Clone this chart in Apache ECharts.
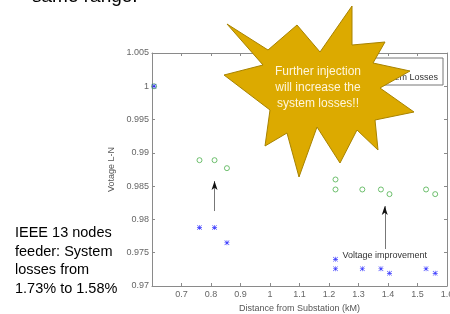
<!DOCTYPE html>
<html>
<head>
<meta charset="utf-8">
<script src="https://cdn.jsdelivr.net/npm/echarts@6/dist/echarts.min.js"></script>
<style>
html, body { margin: 0; padding: 0; background: #fff; }
#chart { width: 450px; height: 314px; }
</style>
</head>
<body>
<div id="chart"></div>
<script>
// distances (km) of the measured nodes
const distance = [0.607, 0.761, 0.812, 0.854, 1.222, 1.222, 1.313, 1.376, 1.405, 1.529, 1.560];
// voltage after injection (green circles)
const voltAfter = [1.0, 0.9889, 0.9889, 0.9877, 0.9860, 0.9845, 0.9845, 0.9845, 0.9838, 0.9845, 0.9838];
// voltage before injection (blue stars)
const voltBefore = [1.0, 0.9788, 0.9788, 0.9765, 0.9740, 0.9726, 0.9726, 0.9726, 0.9719, 0.9726, 0.9719];

// annotation arrows [x, yFrom, yTo]
const arrows = [[0.812, 0.98126, 0.98577], [1.389, 0.97556, 0.98201]];

const sideText = ['IEEE 13 nodes', 'feeder: System', 'losses from', '1.73% to 1.58%'];
const starText = ['Further injection', 'will increase the', 'system losses!!'];

const FONT = 'Liberation Sans, Arial, sans-serif';
const AXIS_COLOR = '#8a8a8a';
const LABEL_COLOR = '#666';

// asterisk marker like matlab '*'
const asterisk = 'path://M4.4,0h1.2v10h-1.2Z M0,4.4h10v1.2h-10Z M0.8,0L10,9.2L9.2,10L0,0.8Z M9.2,0L10,0.8L0.8,10L0,9.2Z';
// matlab style arrow head, tip at top
const arrowHead = 'path://M5,0L10,10L5,7.5L0,10Z';

const chartDom = document.getElementById('chart');
const myChart = echarts.init(chartDom);

function pair(ys) {
    return distance.map((d, i) => [d, ys[i]]);
}

// starburst outline (pixels)
const starPoints = [
    [227, 24], [268, 50], [297, 25], [320, 52], [352, 6], [352, 45],
    [385, 42], [373, 63], [410, 71], [380, 88], [414, 112], [375, 120],
    [378, 150], [357, 130], [340, 163], [317, 127], [299, 177], [287, 133],
    [265, 146], [270, 110], [224, 75], [263, 65]
];

const xBase = {
    type: 'value',
    min: 0.6,
    max: 1.6,
    interval: 0.1,
    splitLine: { show: false },
    axisLine: { show: true, onZero: false, lineStyle: { color: AXIS_COLOR } },
    axisTick: { show: true, inside: true, length: 3, lineStyle: { color: AXIS_COLOR } }
};
const yBase = {
    type: 'value',
    min: 0.97,
    max: 1.005,
    interval: 0.005,
    splitLine: { show: false },
    axisLine: { show: true, onZero: false, lineStyle: { color: AXIS_COLOR } },
    axisTick: { show: true, inside: true, length: 3, lineStyle: { color: AXIS_COLOR } }
};

const option = {
    animation: false,
    backgroundColor: '#fff',
    grid: { left: 152, right: 3, top: 53, bottom: 28, containLabel: false, outerBoundsMode: 'none' },
    xAxis: [
        Object.assign({}, xBase, {
            position: 'bottom',
            name: 'Distance from Substation (kM)',
            nameLocation: 'middle',
            nameGap: 14,
            nameTextStyle: { fontFamily: FONT, fontSize: 9, color: '#555' },
            axisLabel: { showMinLabel: false, margin: 4, fontFamily: FONT, fontSize: 9, color: LABEL_COLOR }
        }),
        Object.assign({}, xBase, { position: 'top', axisLabel: { show: false } })
    ],
    yAxis: [
        Object.assign({}, yBase, {
            position: 'left',
            name: 'Votage L-N',
            nameLocation: 'middle',
            nameGap: 30,
            nameTextStyle: { fontFamily: FONT, fontSize: 9, color: '#555' },
            axisLabel: { margin: 3, fontFamily: FONT, fontSize: 9, color: LABEL_COLOR }
        }),
        Object.assign({}, yBase, { position: 'right', axisLabel: { show: false } })
    ],
    series: [
        {
            name: 'After',
            type: 'scatter',
            symbol: 'circle',
            symbolSize: 5,
            itemStyle: { color: 'rgba(0,0,0,0)', borderColor: '#4cb04c', borderWidth: 1 },
            data: pair(voltAfter)
        },
        {
            name: 'Before',
            type: 'scatter',
            symbol: asterisk,
            symbolSize: 5,
            itemStyle: { color: '#1414ff' },
            data: pair(voltBefore),
            markLine: {
                silent: true,
                symbol: ['none', 'none'],
                lineStyle: { color: '#777', width: 1, type: 'solid' },
                label: { show: false },
                data: arrows.map((a, i) => [
                    {
                        coord: [a[0], a[1]],
                        label: i === 1 ? {
                            show: true, position: 'start', distance: 2,
                            formatter: 'Voltage improvement',
                            fontFamily: FONT, fontSize: 9, color: '#333'
                        } : { show: false }
                    },
                    { coord: [a[0], a[2]] }
                ])
            },
            markPoint: {
                silent: true,
                symbol: arrowHead,
                symbolSize: [6, 9],
                symbolOffset: [0, 4.5],
                itemStyle: { color: '#111' },
                label: { show: false },
                data: arrows.map(a => ({ coord: [a[0], a[2]] }))
            }
        }
    ],
    graphic: [
        {
            type: 'text', left: 32, top: -13, z: 50,
            style: { text: 'same range.', font: '19px ' + FONT, fill: '#000' }
        },
        {
            type: 'text', left: 15, top: 224, z: 50,
            style: { text: sideText.join('\n'), font: '14.5px ' + FONT, lineHeight: 18.5, fill: '#000' }
        },
        {
            type: 'rect', z: 60,
            shape: { x: 300, y: 58, width: 143, height: 27 },
            style: { fill: '#fff', stroke: '#777', lineWidth: 1 }
        },
        {
            type: 'text', z: 61,
            x: 438, y: 78,
            style: { text: 'Min. System Losses', font: '9px ' + FONT, fill: '#333', align: 'right', verticalAlign: 'middle' }
        },
        {
            type: 'polygon', z: 100,
            shape: { points: starPoints },
            style: { fill: '#dcaa00', stroke: '#a88300', lineWidth: 1 }
        },
        {
            type: 'text', z: 101,
            x: 318, y: 88,
            style: {
                text: starText.join('\n'), font: '12px ' + FONT, lineHeight: 16,
                fill: '#fff6dc', align: 'center', verticalAlign: 'middle'
            }
        }
    ]
};
myChart.setOption(option);
</script>
</body>
</html>
